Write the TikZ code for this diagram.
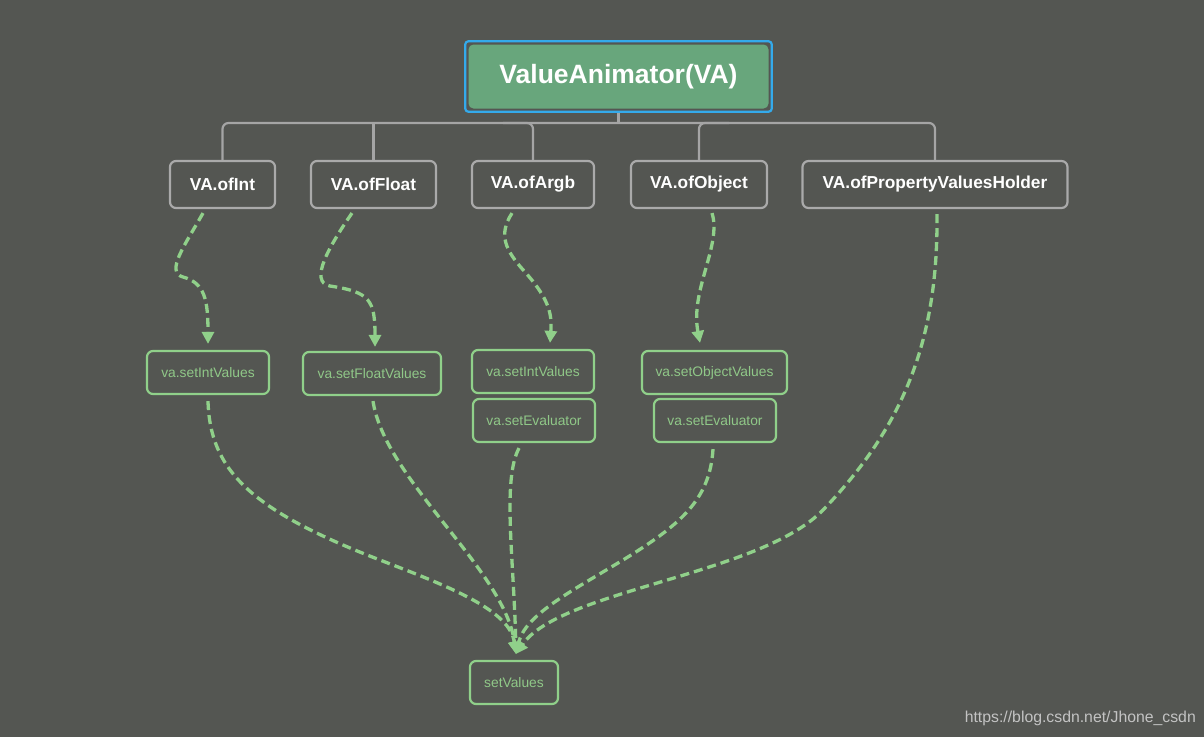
\documentclass[tikz,border=0pt]{standalone}
\usepackage{fontspec}
\setmainfont{Liberation Sans}
\usetikzlibrary{arrows.meta}
\definecolor{bg}{RGB}{84,86,82}
\definecolor{topgreen}{RGB}{104,166,124}
\definecolor{blueb}{RGB}{52,170,235}
\definecolor{boxgray}{RGB}{170,170,170}
\definecolor{treegray}{RGB}{165,165,165}
\definecolor{lgreen}{RGB}{144,208,138}
\definecolor{gtext}{RGB}{144,200,136}
\definecolor{wmgray}{RGB}{195,195,195}
\begin{document}
\begin{tikzpicture}[x=1pt,y=-1pt,
  box/.style={draw=boxgray, line width=2.2pt, rounded corners=6pt, fill=bg, text=white,
    font=\fontsize{17.3}{20}\selectfont\bfseries, inner sep=0pt, minimum height=47pt},
  gbox/.style={draw=lgreen, line width=2.2pt, rounded corners=6pt, fill=bg, text=gtext,
    font=\fontsize{13.8}{16}\selectfont, inner sep=0pt, minimum height=43pt},
  flow/.style={draw=lgreen, line width=3.3pt, dash pattern=on 9pt off 5pt,
    -{Triangle[width=12pt,length=12pt]}},
  tree/.style={draw=treegray, line width=2.2pt, rounded corners=6pt}]
\fill[bg] (0,0) rectangle (1204,737);
\useasboundingbox (0,0) rectangle (1204,737);

% top node
\node[fill=topgreen, rounded corners=5pt, minimum width=300pt, minimum height=64pt,
  inner sep=0pt, text=white, font=\fontsize{26.5}{30}\selectfont\bfseries]
  (top) at (618.5,76.5) {ValueAnimator(VA)};
\draw[blueb, line width=2.2pt, rounded corners=3pt]
  ([xshift=-3pt,yshift=3pt]top.north west) rectangle ([xshift=3pt,yshift=-3pt]top.south east);

% second row
\node[box, minimum width=105pt] (ofInt) at (222.5,184.5) {VA.ofInt};
\node[box, minimum width=125pt] (ofFloat) at (373.5,184.5) {VA.ofFloat};
\node[box, minimum width=122pt] (ofArgb) at (533,184.5) {VA.ofArgb};
\node[box, minimum width=136pt] (ofObject) at (699,184.5) {VA.ofObject};
\node[box, minimum width=265pt] (ofPVH) at (935,184.5) {VA.ofPropertyValuesHolder};

% tree connector
\coordinate (bus) at (618.5,123);
\coordinate (ab) at (ofArgb.north |- bus);
\coordinate (ob) at (ofObject.north |- bus);
\draw[tree] ([yshift=-4pt]top.south) -- (bus);
\draw[tree] (ofInt.north) |- (bus) -| (ofPVH.north);
\draw[tree] (ofFloat.north) -- (ofFloat.north |- bus);
\draw[tree] (ofArgb.north) |- ([xshift=-30pt]ab);
\draw[tree] (ofObject.north) |- ([xshift=30pt]ob);

% green nodes
\node[gbox, minimum width=122pt] (sInt) at (208,372.5) {va.setIntValues};
\node[gbox, minimum width=138pt] (sFloat) at (372,373.5) {va.setFloatValues};
\node[gbox, minimum width=122pt] (aInt) at (533,371.5) {va.setIntValues};
\node[gbox, minimum width=122pt] (aEval) at (534,420.5) {va.setEvaluator};
\node[gbox, minimum width=145pt] (oObj) at (714.5,372.5) {va.setObjectValues};
\node[gbox, minimum width=122pt] (oEval) at (715,420.5) {va.setEvaluator};
\node[gbox, minimum width=88pt] (sv) at (514,682.5) {setValues};
\coordinate (tip) at ([xshift=2pt,yshift=6pt]sv.north);

% upper flows
\draw[flow] ([xshift=-19.5pt,yshift=-4pt]ofInt.south) .. controls (185,245) and (165,272) .. (183,277)
  .. controls (205,283) and (208,300) .. ([yshift=6pt]sInt.north);
\draw[flow] ([xshift=-21.5pt,yshift=-4pt]ofFloat.south) .. controls (330,245) and (308,282) .. (330,286)
  .. controls (370,292) and (375,300) .. ([xshift=3pt,yshift=4pt]sFloat.north);
\draw[flow] ([xshift=-21pt,yshift=-4pt]ofArgb.south) .. controls (498,235) and (505,250) .. (525,272)
  .. controls (550,300) and (552,315) .. ([xshift=17pt,yshift=6pt]aInt.north);
\draw[flow] ([xshift=13pt,yshift=-4pt]ofObject.south) .. controls (722,245) and (690,290)
  .. ([xshift=-14.5pt,yshift=7pt]oObj.north);

% lower flows
\draw[flow] ([xshift=2pt,yshift=-5pt]ofPVH.south) .. controls (938,330) and (910,420) .. (823,510)
  .. controls (760,575) and (560,590) .. (tip);
\draw[flow] ([yshift=-6pt]sInt.south) .. controls (210,470) and (250,510) .. (380,560)
  .. controls (450,587) and (510,610) .. (tip);
\draw[flow] ([xshift=1pt,yshift=-5pt]sFloat.south) .. controls (385,480) and (505,570) .. (tip);
\draw[flow] ([xshift=-15pt,yshift=-5pt]aEval.south) .. controls (502,480) and (514,560) .. (tip);
\draw[flow] ([xshift=-2pt,yshift=-6pt]oEval.south) .. controls (710,500) and (680,525) .. (623,560)
  .. controls (570,592) and (525,615) .. (tip);

% watermark
\node[font=\fontsize{15.8}{18}\selectfont, text=wmgray, anchor=east, inner sep=0pt]
  (wm) at (1196,718) {https://blog.csdn.net/Jhone\_csdn};
\end{tikzpicture}
\end{document}
